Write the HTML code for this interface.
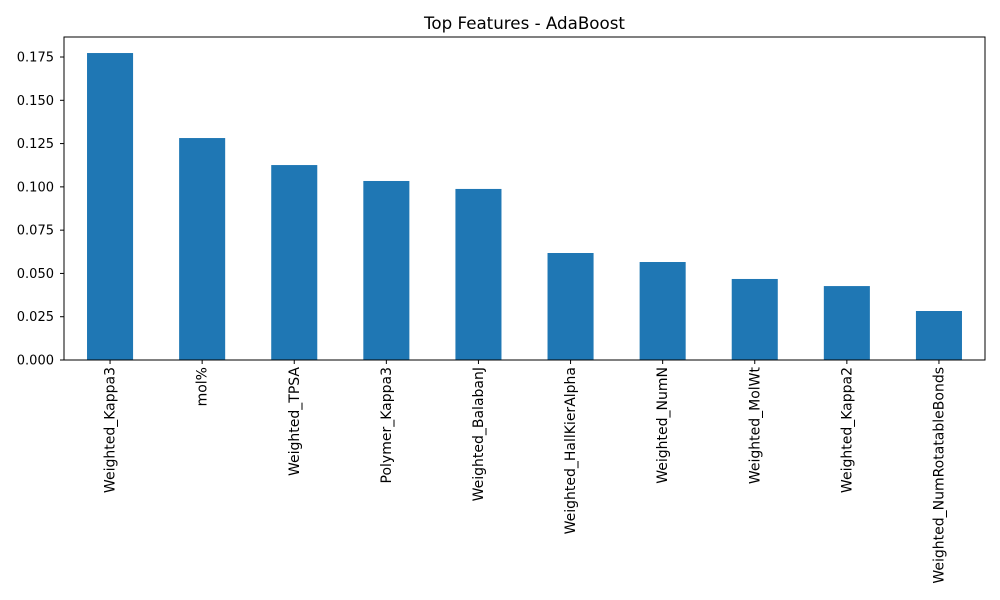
<!DOCTYPE html>
<html><head><meta charset="utf-8"><style>
body{margin:0;background:#fff;}
svg{display:block;font-family:"DejaVu Sans","Liberation Sans",sans-serif;}
</style></head><body>
<svg id="chart" width="1000" height="600">
<text x="524.5" y="29" text-anchor="middle" font-size="16.7">Top Features - AdaBoost</text>
<g id="bars"></g><g id="yticks"></g><g id="xticks"></g>
<rect x="64" y="37" width="921" height="323" fill="none" stroke="#000" stroke-width="1"/>
</svg>
<script>
const categories = ["Weighted_Kappa3","mol%","Weighted_TPSA","Polymer_Kappa3","Weighted_BalabanJ","Weighted_HallKierAlpha","Weighted_NumN","Weighted_MolWt","Weighted_Kappa2","Weighted_NumRotatableBonds"];
const values = [0.1773,0.1282,0.1126,0.1034,0.0988,0.0618,0.0566,0.0468,0.0427,0.0283];
const yTickValues = [0,0.025,0.05,0.075,0.1,0.125,0.15,0.175];
const yTickLabels = ["0.000","0.025","0.050","0.075","0.100","0.125","0.150","0.175"];
const L=64,R=985,T=37,B=360,yMax=0.18656;
const ns="http://www.w3.org/2000/svg";
function y(v){return B-(v/yMax)*(B-T);}
function x(i){return L+(i+0.5)*(R-L)/categories.length;}
const bw=0.5*(R-L)/categories.length;
const gb=document.getElementById('bars'),gy=document.getElementById('yticks'),gx=document.getElementById('xticks');
values.forEach((v,i)=>{
 const r=document.createElementNS(ns,'rect');
 r.setAttribute('x',x(i)-bw/2);r.setAttribute('y',y(v));r.setAttribute('width',bw);r.setAttribute('height',B-y(v));r.setAttribute('fill','#1f77b4');
 
 
 gb.appendChild(r);
});
yTickValues.forEach((v,i)=>{
 const l=document.createElementNS(ns,'line');
 l.setAttribute('x1',L-4);l.setAttribute('x2',L);l.setAttribute('y1',y(v));l.setAttribute('y2',y(v));l.setAttribute('stroke','#000');
 
 
 gy.appendChild(l);
 const t=document.createElementNS(ns,'text');
 t.setAttribute('x',L-10);t.setAttribute('y',y(v)+4.5);t.setAttribute('text-anchor','end');t.setAttribute('font-size','13');
 t.textContent=yTickLabels[i];
 
 
 gy.appendChild(t);
});
categories.forEach((c,i)=>{
 const l=document.createElementNS(ns,'line');
 l.setAttribute('x1',x(i));l.setAttribute('x2',x(i));l.setAttribute('y1',B);l.setAttribute('y2',B+4);l.setAttribute('stroke','#000');
 
 
 gx.appendChild(l);
 const t=document.createElementNS(ns,'text');
 t.setAttribute('transform','translate('+(x(i)+4.5)+','+(B+7)+') rotate(-90)');
 t.setAttribute('text-anchor','end');t.setAttribute('font-size','14');
 t.textContent=c;
 
 
 gx.appendChild(t);
});
</script>
</body></html>
